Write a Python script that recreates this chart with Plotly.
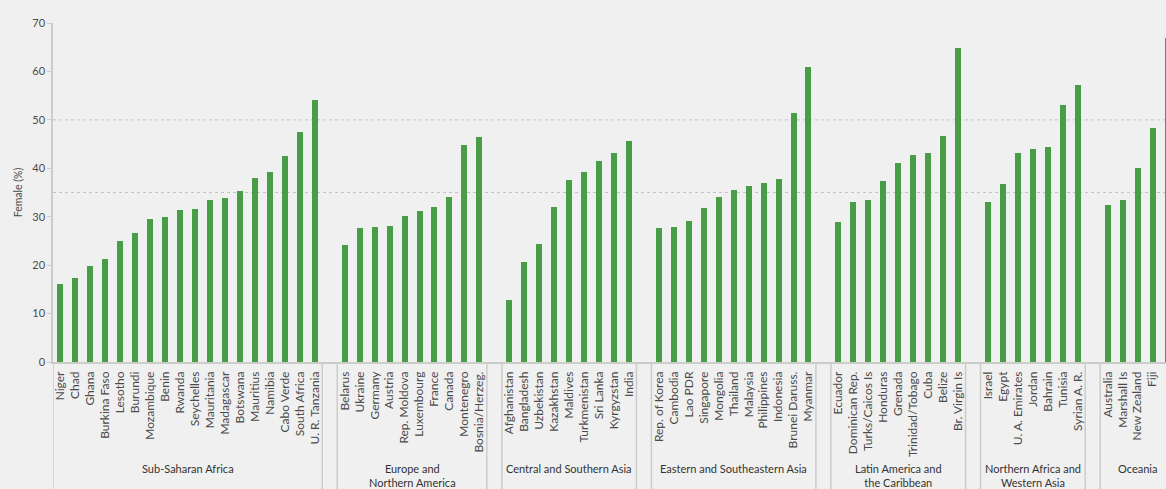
import plotly.graph_objects as go

# ---- data ----
groups = [
    "Sub-Saharan Africa",
    "Europe and<br>Northern America",
    "Central and Southern Asia",
    "Eastern and Southeastern Asia",
    "Latin America and<br>the Caribbean",
    "Northern Africa and<br>Western Asia",
    "Oceania",
]
countries_ssa = ["Niger", "Chad", "Ghana", "Burkina Faso", "Lesotho", "Burundi", "Mozambique", "Benin",
                 "Rwanda", "Seychelles", "Mauritania", "Madagascar", "Botswana", "Mauritius", "Namibia",
                 "Cabo Verde", "South Africa", "U. R. Tanzania"]
values_ssa = [16.2, 17.4, 19.8, 21.2, 25.0, 26.6, 29.5, 29.9, 31.3, 31.6, 33.4, 33.8, 35.3, 38.0, 39.2,
              42.6, 47.4, 54.1]
countries_ena = ["Belarus", "Ukraine", "Germany", "Austria", "Rep. Moldova", "Luxembourg", "France",
                 "Canada", "Montenegro", "Bosnia/Herzeg."]
values_ena = [24.1, 27.7, 27.9, 28.1, 30.2, 31.2, 32.1, 34.1, 44.9, 46.5]
countries_csa = ["Afghanistan", "Bangladesh", "Uzbekistan", "Kazakhstan", "Maldives", "Turkmenistan",
                 "Sri Lanka", "Kyrgyzstan", "India"]
values_csa = [12.8, 20.6, 24.3, 32.0, 37.5, 39.3, 41.6, 43.2, 45.7]
countries_esa = ["Rep. of Korea", "Cambodia", "Lao PDR", "Singapore", "Mongolia", "Thailand", "Malaysia",
                 "Philippines", "Indonesia", "Brunei Daruss.", "Myanmar"]
values_esa = [27.7, 27.8, 29.2, 31.7, 34.1, 35.5, 36.3, 36.9, 37.7, 51.4, 61.0]
countries_lac = ["Ecuador", "Dominican Rep.", "Turks/Caicos Is", "Honduras", "Grenada", "Trinidad/Tobago",
                 "Cuba", "Belize", "Br. Virgin Is"]
values_lac = [29.0, 33.0, 33.5, 37.4, 41.0, 42.7, 43.1, 46.7, 64.9]
countries_nawa = ["Israel", "Egypt", "U. A. Emirates", "Jordan", "Bahrain", "Tunisia", "Syrian A. R."]
values_nawa = [33.0, 36.8, 43.2, 43.9, 44.4, 53.0, 57.2]
countries_oce = ["Australia", "Marshall Is", "New Zealand", "Fiji", "Samoa"]
values_oce = [32.4, 33.5, 40.1, 48.3, 66.9]

y_ticks = [0, 10, 20, 30, 40, 50, 60, 70]
ref_lines = [35, 50]

group_countries = [countries_ssa, countries_ena, countries_csa, countries_esa,
                   countries_lac, countries_nawa, countries_oce]
group_values = [values_ssa, values_ena, values_csa, values_esa, values_lac, values_nawa, values_oce]

# ---- build slots (one empty slot between groups) ----
xs, ys, labels = [], [], []
group_spans = []
pos = 0
for names, vals in zip(group_countries, group_values):
    start = pos
    for n, v in zip(names, vals):
        xs.append(pos)
        ys.append(v)
        labels.append(n)
        pos += 1
    group_spans.append((start, pos - 1))
    pos += 1  # gap slot

GREEN = "#4a9d47"
LINE = "#cccccc"
TXT = "#4a4a4a"
FONT = "Lato, 'Open Sans', sans-serif"

fig = go.Figure()
fig.add_trace(go.Bar(x=xs, y=ys, width=0.4, marker=dict(color=GREEN, line=dict(width=0)),
                     hoverinfo="skip"))

shapes = []
for v in ref_lines:
    shapes.append(dict(type="line", xref="paper", yref="y", x0=0, x1=1, y0=v, y1=v,
                       line=dict(color="#c4c4c4", width=1, dash="dot"), layer="below"))
for (a, b) in group_spans:
    for xv in (a - 0.5, b + 0.5):
        shapes.append(dict(type="line", xref="x", yref="paper", x0=xv, x1=xv, y0=0, y1=-0.6,
                           line=dict(color=LINE, width=1.5)))

annotations = []
for g, (a, b) in zip(groups, group_spans):
    annotations.append(dict(text=g, x=(a + b) / 2, xref="x", y=-0.29, yref="paper",
                            yanchor="top", xanchor="center", showarrow=False,
                            font=dict(family=FONT, size=11, color="#333333")))

fig.update_layout(
    width=1166, height=489,
    margin=dict(l=53, r=0, t=23, b=127),
    paper_bgcolor="#f0f0f0", plot_bgcolor="#f0f0f0",
    showlegend=False,
    bargap=0,
    shapes=shapes,
    annotations=annotations,
    font=dict(family=FONT, color=TXT),
)
fig.update_xaxes(
    range=[-0.5, 73.9],
    tickmode="array", tickvals=xs, ticktext=labels, tickangle=-90,
    tickfont=dict(family=FONT, size=12, color=TXT),
    showline=True, linecolor=LINE, linewidth=1.5,
    showgrid=False, zeroline=False, ticks="", ticklabelstandoff=3,
)
fig.update_yaxes(
    range=[0, 70], tickmode="array", tickvals=y_ticks,
    tickfont=dict(family=FONT, size=11, color=TXT),
    showline=True, linecolor=LINE, linewidth=1.5,
    ticks="outside", ticklen=4, tickcolor=LINE, tickwidth=1,
    showgrid=False, zeroline=False,
    title=dict(text="Female (%)", font=dict(family=FONT, size=10.5, color=TXT), standoff=8),
)

fig.write_html(
    "out.html",
    config={"displayModeBar": False},
    post_script="document.body.style.margin='0';document.body.style.overflow='hidden';"
                "document.documentElement.style.overflow='hidden';",
)
